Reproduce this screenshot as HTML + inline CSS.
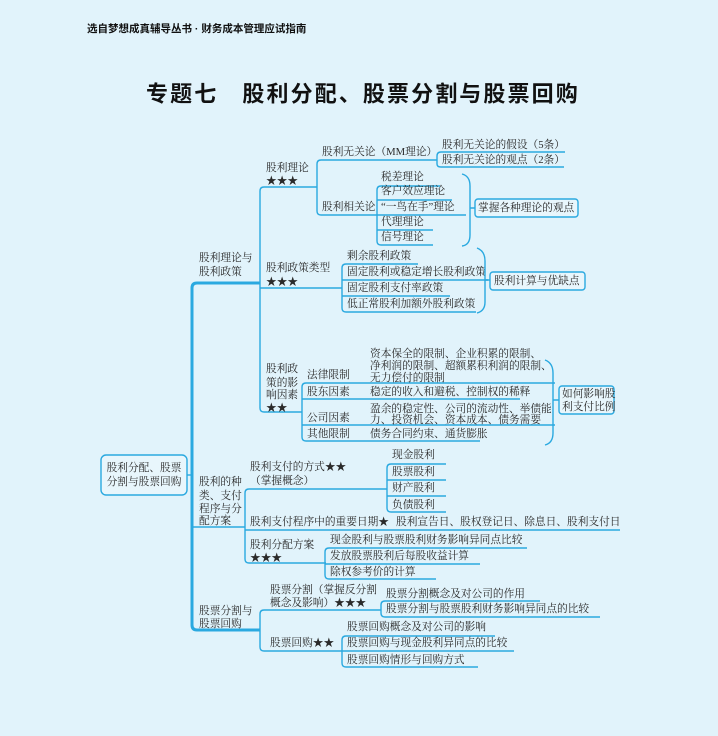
<!DOCTYPE html>
<html><head><meta charset="utf-8">
<style>
html,body{margin:0;padding:0;background:#e1f3fb;}
svg{display:block}
text{font-family:"Liberation Serif","Noto Serif CJK SC",serif;font-size:10.7px;fill:#2a2a2a;dominant-baseline:central}
.l{stroke:#2aa9e0;stroke-width:1.4;fill:none}
.t{stroke:#2aa9e0;stroke-width:3;fill:none}
.b{stroke:#2aa9e0;stroke-width:1.4;fill:#e8f6fc}
</style></head><body>
<svg width="718" height="736" viewBox="0 0 718 736" xmlns="http://www.w3.org/2000/svg">
<rect width="718" height="736" fill="#e1f3fb"/>
<text x="87" y="29" style="font-family:'Liberation Sans','Noto Sans CJK SC',sans-serif;font-size:10.5px;font-weight:bold;fill:#111">选自梦想成真辅导丛书 · 财务成本管理应试指南</text>
<text x="146" y="94" style="font-family:'Liberation Sans','Noto Sans CJK SC',sans-serif;font-size:22px;font-weight:bold;fill:#111;letter-spacing:2.1px">专题七　股利分配、股票分割与股票回购</text>

<!-- root -->
<rect x="101" y="455" width="86" height="40" rx="5" class="b"/>
<text x="144" y="468" text-anchor="middle">股利分配、股票</text>
<text x="144" y="482" text-anchor="middle">分割与股票回购</text>
<path class="l" d="M187 475 H192"/>
<!-- trunk -->
<path class="t" d="M260 283 H197 Q192 283 192 288 V625 Q192 630 197 630 H260"/>
<path class="t" d="M192 527 H245" style="stroke-width:1.6"/>
<text x="199" y="258">股利理论与</text><text x="199" y="272">股利政策</text>
<text x="199" y="482">股利的种</text><text x="199" y="496">类、支付</text><text x="199" y="509">程序与分</text><text x="199" y="521">配方案</text>
<text x="199" y="611">股票分割与</text><text x="199" y="624">股票回购</text>

<!-- branch1 vertical -->
<path class="l" d="M317 187 H264 Q260 187 260 191 V408 Q260 412 264 412 H302"/>
<path class="l" d="M260 288 H342"/>
<text x="266" y="168">股利理论</text><text x="266" y="181">★★★</text>
<text x="266" y="268">股利政策类型</text><text x="266" y="282">★★★</text>
<text x="266" y="369">股利政</text><text x="266" y="383">策的影</text><text x="266" y="395">响因素</text><text x="266" y="408">★★</text>

<!-- 股利理论 -->
<path class="l" d="M437 160 H321 Q317 160 317 164 V211 Q317 215 321 215 H377"/>
<text x="322" y="152">股利无关论（MM理论）</text>
<text x="322" y="207">股利相关论</text>
<path class="l" d="M565 152 H441 Q437 152 437 156 V164 Q437 167 441 167 H564"/>
<text x="442" y="145">股利无关论的假设（5条）</text>
<text x="442" y="160">股利无关论的观点（2条）</text>
<path class="l" d="M440 186 H381 Q377 186 377 190 V241 Q377 245 381 245 H433"/>
<path class="l" d="M377 200 H452 M377 215 H466 M377 230 H433"/>
<text x="381" y="177">税差理论</text>
<text x="381" y="191">客户效应理论</text>
<text x="381" y="207">“一鸟在手”理论</text>
<text x="381" y="222">代理理论</text>
<text x="381" y="237">信号理论</text>
<path class="l" d="M462 174 Q470 176 470 186 V235 Q470 245 462 246 M470 208 H475"/>
<rect x="475" y="199" width="103" height="18" rx="3" class="b"/>
<text x="478" y="208">掌握各种理论的观点</text>

<!-- 政策类型 -->
<path class="l" d="M418 264 H346 Q342 264 342 268 V308 Q342 312 346 312 H476"/>
<path class="l" d="M342 280 H488 M342 296 H450"/>
<text x="347" y="256">剩余股利政策</text>
<text x="347" y="272">固定股利或稳定增长股利政策</text>
<text x="347" y="288">固定股利支付率政策</text>
<text x="347" y="304">低正常股利加额外股利政策</text>
<path class="l" d="M477 248 Q485 251 485 261 V302 Q485 311 477 313 M485 280 H490"/>
<rect x="490" y="272" width="95" height="18" rx="3" class="b"/>
<text x="494" y="281">股利计算与优缺点</text>

<!-- 影响因素 -->
<path class="l" d="M555 383 H306 Q302 383 302 387 V437 Q302 441 306 441 H480"/>
<path class="l" d="M302 399 H520 M302 425 H555"/>
<text x="307" y="375">法律限制</text>
<text x="307" y="392">股东因素</text>
<text x="307" y="418">公司因素</text>
<text x="307" y="434">其他限制</text>
<text x="370" y="354">资本保全的限制、企业积累的限制、</text>
<text x="370" y="366">净利润的限制、超额累积利润的限制、</text>
<text x="370" y="378">无力偿付的限制</text>
<text x="370" y="392">稳定的收入和避税、控制权的稀释</text>
<text x="370" y="409">盈余的稳定性、公司的流动性、举债能</text>
<text x="370" y="420">力、投资机会、资本成本、债务需要</text>
<text x="370" y="434">债务合同约束、通货膨胀</text>
<path class="l" d="M545 360 Q553 363 553 373 V433 Q553 443 545 445 M553 400 H559"/>
<rect x="559" y="386" width="55" height="28" rx="3" class="b"/>
<text x="562" y="394">如何影响股</text>
<text x="562" y="407">利支付比例</text>

<!-- branch2 -->
<path class="l" d="M387 489 H249 Q245 489 245 493 V559 Q245 563 249 563 H326"/>
<path class="l" d="M245 530 H620"/>
<text x="250" y="467">股利支付的方式★★</text>
<text x="250" y="481">（掌握概念）</text>
<text x="250" y="522">股利支付程序中的重要日期★</text>
<text x="396" y="522">股利宣告日、股权登记日、除息日、股利支付日</text>
<text x="250" y="545">股利分配方案</text><text x="250" y="558">★★★</text>
<path class="l" d="M446 464 H391 Q387 464 387 468 V508 Q387 512 391 512 H446"/>
<path class="l" d="M387 480 H446 M387 496 H446"/>
<text x="392" y="455">现金股利</text>
<text x="392" y="472">股票股利</text>
<text x="392" y="488">财产股利</text>
<text x="392" y="505">负债股利</text>
<path class="l" d="M527 548 H329 Q325 548 325 552 V575 Q325 579 329 579 H436"/>
<path class="l" d="M325 564 H480"/>
<text x="330" y="540">现金股利与股票股利财务影响异同点比较</text>
<text x="330" y="556">发放股票股利后每股收益计算</text>
<text x="330" y="572">除权参考价的计算</text>

<!-- branch3 -->
<path class="l" d="M381 610 H264 Q260 610 260 614 V647 Q260 651 264 651 H342"/>
<text x="270" y="590">股票分割（掌握反分割</text>
<text x="270" y="603">概念及影响）★★★</text>
<text x="270" y="643">股票回购★★</text>
<path class="l" d="M540 601 H385 Q381 601 381 605 V613 Q381 617 385 617 H600"/>
<text x="386" y="594">股票分割概念及对公司的作用</text>
<text x="386" y="609">股票分割与股票股利财务影响异同点的比较</text>
<path class="l" d="M495 636 H346 Q342 636 342 640 V663 Q342 667 346 667 H478"/>
<path class="l" d="M342 651 H514"/>
<text x="347" y="627">股票回购概念及对公司的影响</text>
<text x="347" y="643">股票回购与现金股利异同点的比较</text>
<text x="347" y="660">股票回购情形与回购方式</text>
</svg>
</body></html>
